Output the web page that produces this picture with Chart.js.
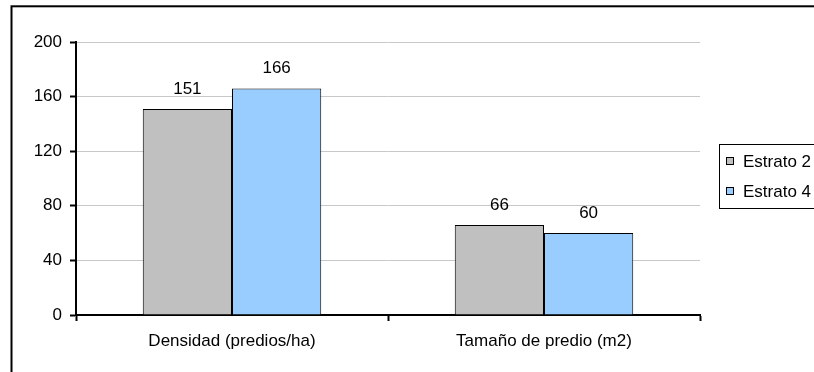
<!DOCTYPE html>
<html>
<head>
<meta charset="utf-8">
<script src="https://cdn.jsdelivr.net/npm/chart.js@4"></script>
<style>
html,body{margin:0;padding:0;background:#fff;}
#wrap{width:814px;height:372px;position:relative;}
</style>
</head>
<body>
<div id="wrap"><canvas id="c" width="814" height="372"></canvas></div>
<script>
const categories = ["Densidad (predios/ha)", "Tamaño de predio (m2)"];
const seriesNames = ["Estrato 2", "Estrato 4"];
const estrato2 = [151, 66];
const estrato4 = [166, 60];
const yTicks = [0, 40, 80, 120, 160, 200];

const FONT = {family: "'Liberation Sans', Arial, sans-serif", size: 17};
const colors = ["#C0C0C0", "#99CCFF"];

const framePlugin = {
  id: 'frame',
  afterDraw(chart) {
    const ctx = chart.ctx;
    ctx.save();
    ctx.strokeStyle = '#000';
    ctx.lineWidth = 2;
    ctx.strokeRect(11.5, 6.3, 900, 500);
    ctx.restore();
  }
};

const labelPlugin = {
  id: 'vlabels',
  afterDatasetsDraw(chart) {
    const ctx = chart.ctx;
    ctx.save();
    ctx.font = FONT.size + "px " + FONT.family;
    ctx.fillStyle = '#000';
    ctx.textAlign = 'center';
    ctx.textBaseline = 'alphabetic';
    chart.data.datasets.forEach((ds, i) => {
      const meta = chart.getDatasetMeta(i);
      meta.data.forEach((bar, j) => {
        ctx.fillText(String(ds.data[j]), bar.x, bar.y - 15);
      });
    });
    ctx.restore();
  }
};

const legendPlugin = {
  id: 'customLegend',
  afterDraw(chart) {
    const ctx = chart.ctx;
    ctx.save();
    ctx.strokeStyle = '#000';
    ctx.lineWidth = 1;
    ctx.strokeRect(719.5, 144.5, 200, 64);
    ctx.font = FONT.size + "px " + FONT.family;
    ctx.textAlign = 'left';
    ctx.textBaseline = 'middle';
    chart.data.datasets.forEach((ds, i) => {
      const cy = 161 + i * 30;
      ctx.fillStyle = ds.backgroundColor;
      ctx.fillRect(726, cy - 4, 8, 8);
      ctx.strokeStyle = '#000';
      ctx.strokeRect(726.5, cy - 3.5, 7, 7);
      ctx.fillStyle = '#000';
      ctx.fillText(ds.label, 743, cy + 1);
    });
    ctx.restore();
  }
};

new Chart(document.getElementById('c'), {
  type: 'bar',
  data: {
    labels: categories,
    datasets: [
      {label: seriesNames[0], data: estrato2, backgroundColor: colors[0], borderColor: '#000', borderWidth: 1},
      {label: seriesNames[1], data: estrato4, backgroundColor: colors[1], borderColor: '#000', borderWidth: 1}
    ]
  },
  options: {
    responsive: false,
    animation: false,
    devicePixelRatio: 1,
    categoryPercentage: 0.572,
    barPercentage: 1,
    layout: {padding: {left: 0, right: 114, top: 42, bottom: 0}},
    plugins: {legend: {display: false}, tooltip: {enabled: false}},
    scales: {
      x: {
        offset: true,
        grid: {offset: true, drawOnChartArea: false, tickLength: 6, tickColor: '#000', tickWidth: 2},
        border: {color: '#000', width: 2},
        ticks: {color: '#000', font: FONT, padding: 10, maxRotation: 0},
        afterFit(s) { s.height = 57; }
      },
      y: {
        min: yTicks[0], max: yTicks[yTicks.length - 1],
        afterBuildTicks(s) { s.ticks = yTicks.map(v => ({value: v})); },
        grid: {color: '#c8c8c8', lineWidth: 1, tickLength: 6, tickColor: '#000', tickWidth: 2},
        border: {color: '#000', width: 2},
        ticks: {color: '#000', font: FONT, padding: 8},
        afterFit(s) { s.width = 76; }
      }
    }
  }
  ,plugins: [labelPlugin, legendPlugin, framePlugin]
});
</script>
</body>
</html>
